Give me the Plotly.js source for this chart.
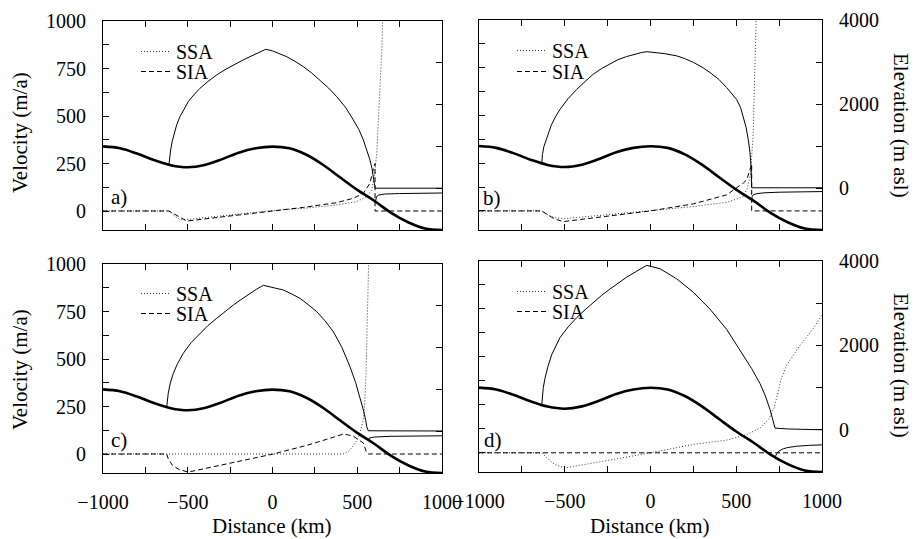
<!DOCTYPE html>
<html><head><meta charset="utf-8">
<script src="https://cdn.plot.ly/plotly-3.0.1.min.js"></script>
<style>html,body{margin:0;padding:0;background:#fff;} #chart{width:917px;height:539px;}</style>
</head><body><div id="chart"></div>
<script>
// ---------- tick labels / text ----------
const panelLabels = ['a)', 'b)', 'c)', 'd)'];
const seriesNames = ['SSA', 'SIA'];
const xTickVals = [-1000, -750, -500, -250, 0, 250, 500, 750, 1000];
const xTickText = ['\u22121000', '', '\u2212500', '', '0', '', '500', '', '1000'];
const vTickVals = [0, 125, 250, 375, 500, 625, 750, 875, 1000];
const vTickText = ['0', '', '250', '', '500', '', '750', '', '1000'];
const eTickVals = [0, 1000, 2000, 3000, 4000];
const eTickText = ['0', '', '2000', '', '4000'];

// ---------- bed topography (elevation, m asl), same in all panels ----------
const bedX = [-1000, -900, -800, -700, -600, -500, -400, -300, -200, -100, 0, 100, 200, 300, 400, 500, 600, 700, 800, 900, 1000];
const bedE = [1000, 955, 830, 675, 550, 500, 555, 690, 850, 955, 995, 955, 800, 555, 255, -40, -300, -590, -815, -965, -1000];

// ---------- panel a ----------
const surfA_X = [-611, -607, -601, -592, -581, -565, -546, -522, -497, -465, -428, -380, -330, -280, -231, -182, -133, -85, -40, 0, 40, 84, 133, 182, 230, 280, 330, 379, 430, 477, 510, 536, 558, 575, 587, 595, 601, 605, 1000];
const surfA_E = [555, 760, 914, 1120, 1313, 1520, 1711, 1890, 2070, 2230, 2390, 2555, 2708, 2835, 2947, 3050, 3146, 3240, 3323, 3285, 3225, 3146, 3035, 2907, 2760, 2588, 2400, 2189, 1940, 1632, 1400, 1153, 900, 675, 470, 275, 120, 0, 0];
const lowA_X = [607, 610, 614, 625, 660, 750, 1000];
const lowA_E = [-330, -250, -200, -165, -140, -128, -115];
const ssaA_X = [-1000, -611, -595, -580, -551, -516, -400, -250, -100, -5, 182, 379, 496, 555, 585, 600, 615, 625, 635, 644, 650, 660];
const ssaA_V = [0, 0, -12, -25, -42, -45, -35, -22, -8, 2, 14, 32, 49, 75, 110, 180, 303, 479, 654, 830, 1005, 1300];
const siaA_X = [-1000, -611, -506, -5, 182, 379, 477, 536, 575, 598, 605, 605, 1000];
const siaA_V = [0, 0, -53, 0, 19, 44, 67, 93, 146, 233, 250, 0, 0];

// ---------- panel b ----------
const surfB_X = [-634, -630, -622, -605, -580, -555, -528, -480, -430, -380, -334, -285, -236, -190, -139, -95, -51, -20, 20, 80, 153, 200, 250, 300, 347, 400, 444, 475, 502, 525, 541, 557, 570, 580, 586, 589, 590, 1000];
const surfB_E = [596, 800, 980, 1200, 1480, 1690, 1871, 2130, 2349, 2540, 2708, 2845, 2964, 3055, 3130, 3185, 3227, 3245, 3230, 3200, 3146, 3080, 2990, 2880, 2750, 2580, 2390, 2250, 2110, 1920, 1711, 1450, 1153, 850, 514, 250, 5, 5];
const lowB_X = [590, 593, 600, 620, 660, 750, 1000];
const lowB_E = [-290, -200, -160, -135, -115, -100, -85];
const ssaB_X = [-1000, -634, -600, -560, -528, -500, -250, 0, 250, 444, 464, 541, 565, 584, 592, 599, 609, 618, 625];
const ssaB_V = [0, 0, -20, -35, -39, -40, -20, 3, 23, 45, 50, 75, 120, 198, 300, 410, 760, 1005, 1300];
const siaB_X = [-1000, -634, -600, -560, -508, 0, 250, 444, 541, 561, 580, 588, 590, 590, 1000];
const siaB_V = [0, 0, -20, -42, -56, 0, 37, 84, 146, 163, 216, 240, 245, 0, 0];

// ---------- panel c ----------
const surfC_X = [-624, -620, -615, -603, -585, -560, -526, -480, -428, -380, -329, -280, -231, -180, -133, -95, -54, 0, 64, 110, 162, 210, 261, 310, 359, 410, 457, 490, 516, 538, 550, 556, 565, 1000];
const surfC_E = [586, 780, 907, 1150, 1385, 1620, 1864, 2120, 2342, 2530, 2701, 2870, 3019, 3165, 3299, 3395, 3490, 3445, 3378, 3290, 3179, 3030, 2859, 2640, 2380, 2000, 1543, 1170, 825, 480, 260, 108, 10, 5];
const lowC_X = [565, 568, 575, 600, 700, 1000];
const lowC_E = [-210, -180, -160, -140, -122, -110];
const ssaC_X = [-1000, 416, 450, 478, 500, 516, 535, 543, 552, 561, 567, 575];
const ssaC_V = [0, 0, 15, 45, 75, 110, 180, 250, 426, 777, 987, 1300];
const siaC_X = [-1000, -624, -615, -590, -550, -497, 5, 200, 359, 418, 448, 478, 536, 556, 565, 1000];
const siaC_V = [0, 0, -25, -60, -82, -95, 0, 45, 88, 105, 100, 93, 58, 5, 0, 0];

// ---------- panel d ----------
const surfD_X = [-634, -630, -625, -615, -598, -576, -528, -480, -430, -380, -334, -285, -236, -190, -139, -80, -22, 56, 153, 250, 347, 444, 541, 590, 638, 670, 697, 712, 722, 726, 800, 1000];
const surfD_E = [595, 850, 1000, 1225, 1500, 1782, 2182, 2440, 2660, 2850, 3019, 3185, 3337, 3480, 3617, 3760, 3897, 3816, 3577, 3258, 2859, 2380, 1782, 1450, 1100, 800, 480, 260, 100, 40, 20, 0];
const lowD_X = [726, 730, 736, 750, 774, 800, 852, 920, 1000];
const lowD_E = [-650, -610, -570, -500, -450, -420, -390, -370, -357];
const ssaD_X = [-1000, -634, -600, -560, -499, -250, 0, 250, 444, 561, 640, 690, 720, 740, 760, 794, 872, 950, 1000];
const ssaD_V = [0, 0, -30, -60, -79, -40, 0, 44, 66, 95, 130, 175, 235, 300, 380, 456, 561, 649, 719];
const siaD_X = [-1000, 1000];
const siaD_V = [0, 0];

// ---------- layout geometry (pixels of the 917x539 page) ----------
const W = 917, H = 539;
const FONT = '"Liberation Serif", "DejaVu Serif", serif';
const TICK_SIZE = 20, TITLE_SIZE = 21, LEG_SIZE = 20;
const panels = [
  {left: 103, right: 442, top: 21, bottom: 230, surfX: surfA_X, surfE: surfA_E, lowX: lowA_X, lowE: lowA_E, ssaX: ssaA_X, ssaV: ssaA_V, siaX: siaA_X, siaV: siaA_V, vLab: true, eLab: false, xLab: false, lab: [119, 197], leg: [136, 32, 52]},
  {left: 479, right: 822, top: 20, bottom: 230, surfX: surfB_X, surfE: surfB_E, lowX: lowB_X, lowE: lowB_E, ssaX: ssaB_X, ssaV: ssaB_V, siaX: siaB_X, siaV: siaB_V, vLab: false, eLab: true, xLab: false, lab: [492, 198], leg: [512, 31, 52]},
  {left: 103, right: 442, top: 264, bottom: 473, surfX: surfC_X, surfE: surfC_E, lowX: lowC_X, lowE: lowC_E, ssaX: ssaC_X, ssaV: ssaC_V, siaX: siaC_X, siaV: siaC_V, vLab: true, eLab: false, xLab: true, lab: [119, 440], leg: [136, 274, 294]},
  {left: 479, right: 822, top: 261, bottom: 472, surfX: surfD_X, surfE: surfD_E, lowX: lowD_X, lowE: lowD_E, ssaX: ssaD_X, ssaV: ssaD_V, siaX: siaD_X, siaV: siaD_V, vLab: false, eLab: true, xLab: true, lab: [493, 440], leg: [512, 272, 292]}
];

const traces = [];
const layout = {
  width: W, height: H,
  margin: {l: 0, r: 0, t: 0, b: 0, pad: 0},
  paper_bgcolor: '#fff', plot_bgcolor: '#fff',
  font: {family: FONT, size: TICK_SIZE, color: '#000'},
  showlegend: true,
  annotations: []
};
const blank = a => a.map(() => '');

panels.forEach((p, i) => {
  const n = i + 1;
  const xa = n === 1 ? 'x' : 'x' + n;
  const yv = 'y' + (2 * i + 1 === 1 ? '' : 2 * i + 1);
  const ye = 'y' + (2 * i + 2);
  const legSSA = 2 * i + 1 === 1 ? 'legend' : 'legend' + (2 * i + 1);
  const legSIA = 'legend' + (2 * i + 2);

  const xKey = n === 1 ? 'xaxis' : 'xaxis' + n;
  const yvKey = 'yaxis' + (2 * i + 1 === 1 ? '' : 2 * i + 1);
  const yeKey = 'yaxis' + (2 * i + 2);
  const tf = {family: FONT, size: TICK_SIZE, color: '#000'};

  layout[xKey] = {
    domain: [p.left / W, p.right / W], anchor: yv, range: [-1000, 1000],
    showline: true, linecolor: '#000', linewidth: 1, mirror: 'ticks',
    ticks: 'inside', ticklen: 6, tickcolor: '#000', tickwidth: 1,
    tickmode: 'array', tickvals: xTickVals, ticktext: p.xLab ? xTickText : blank(xTickText),
    ticklabelstandoff: 11, tickfont: tf,
    showgrid: false, zeroline: false, fixedrange: true
  };
  layout[yvKey] = {
    domain: [1 - p.bottom / H, 1 - p.top / H], anchor: xa, range: [-100, 1000],
    showline: true, linecolor: '#000', linewidth: 1, mirror: false,
    ticks: 'inside', ticklen: 6, tickcolor: '#000', tickwidth: 1,
    tickmode: 'array', tickvals: vTickVals, ticktext: p.vLab ? vTickText : blank(vTickText),
    ticklabelstandoff: 12, tickfont: tf,
    showgrid: false, zeroline: false, fixedrange: true
  };
  layout[yeKey] = {
    overlaying: yv, side: 'right', anchor: xa, range: [-1000, 4000],
    showline: true, linecolor: '#000', linewidth: 1,
    ticks: 'inside', ticklen: 6, tickcolor: '#000', tickwidth: 1,
    tickmode: 'array', tickvals: eTickVals, ticktext: p.eLab ? eTickText : blank(eTickText),
    ticklabelstandoff: 12, tickfont: tf,
    showgrid: false, zeroline: false, fixedrange: true
  };
  const legBase = {x: p.leg[0] / W, xanchor: 'left', yanchor: 'top',
    bgcolor: 'rgba(0,0,0,0)', borderwidth: 0, itemwidth: 30, tracegroupgap: 0,
    font: {family: FONT, size: LEG_SIZE, color: '#000'}};
  layout[legSSA] = Object.assign({}, legBase, {y: 1 - p.leg[1] / H});
  layout[legSIA] = Object.assign({}, legBase, {y: 1 - p.leg[2] / H});

  // bed (thick)
  traces.push({x: bedX, y: bedE, xaxis: xa, yaxis: ye, mode: 'lines', showlegend: false,
    line: {color: '#000', width: 2.6, shape: 'spline', smoothing: 1}, hoverinfo: 'skip'});
  // surface (thin)
  traces.push({x: p.surfX, y: p.surfE, xaxis: xa, yaxis: ye, mode: 'lines', showlegend: false,
    line: {color: '#000', width: 1}, hoverinfo: 'skip'});
  // lower shelf line (thin)
  traces.push({x: p.lowX, y: p.lowE, xaxis: xa, yaxis: ye, mode: 'lines', showlegend: false,
    line: {color: '#000', width: 1}, hoverinfo: 'skip'});
  // SSA velocity (dotted)
  traces.push({x: p.ssaX, y: p.ssaV, xaxis: xa, yaxis: yv, mode: 'lines', name: seriesNames[0],
    legend: legSSA, line: {color: '#333', width: 1, dash: '1px,2px'}, hoverinfo: 'skip'});
  // SIA velocity (dashed)
  traces.push({x: p.siaX, y: p.siaV, xaxis: xa, yaxis: yv, mode: 'lines', name: seriesNames[1],
    legend: legSIA, line: {color: '#000', width: 1, dash: '5px,3px'}, hoverinfo: 'skip'});

  layout.annotations.push({xref: 'paper', yref: 'paper', x: p.lab[0] / W, y: 1 - p.lab[1] / H,
    text: panelLabels[i], showarrow: false, xanchor: 'center', yanchor: 'middle',
    font: {family: FONT, size: TITLE_SIZE, color: '#000'}});
});

// axis titles as annotations
const titles = [
  {t: 'Velocity (m/a)', x: 20, y: 133, a: -90},
  {t: 'Velocity (m/a)', x: 20, y: 370, a: -90},
  {t: 'Elevation (m asl)', x: 901, y: 125, a: 90},
  {t: 'Elevation (m asl)', x: 901, y: 365, a: 90},
  {t: 'Distance (km)', x: 272, y: 526, a: 0},
  {t: 'Distance (km)', x: 650, y: 526, a: 0}
];
titles.forEach(o => layout.annotations.push({xref: 'paper', yref: 'paper', x: o.x / W, y: 1 - o.y / H,
  text: o.t, textangle: o.a, showarrow: false, xanchor: 'center', yanchor: 'middle',
  font: {family: FONT, size: TITLE_SIZE, color: '#000'}}));

Plotly.newPlot('chart', traces, layout, {displayModeBar: false, staticPlot: true});
</script>
</body></html>
